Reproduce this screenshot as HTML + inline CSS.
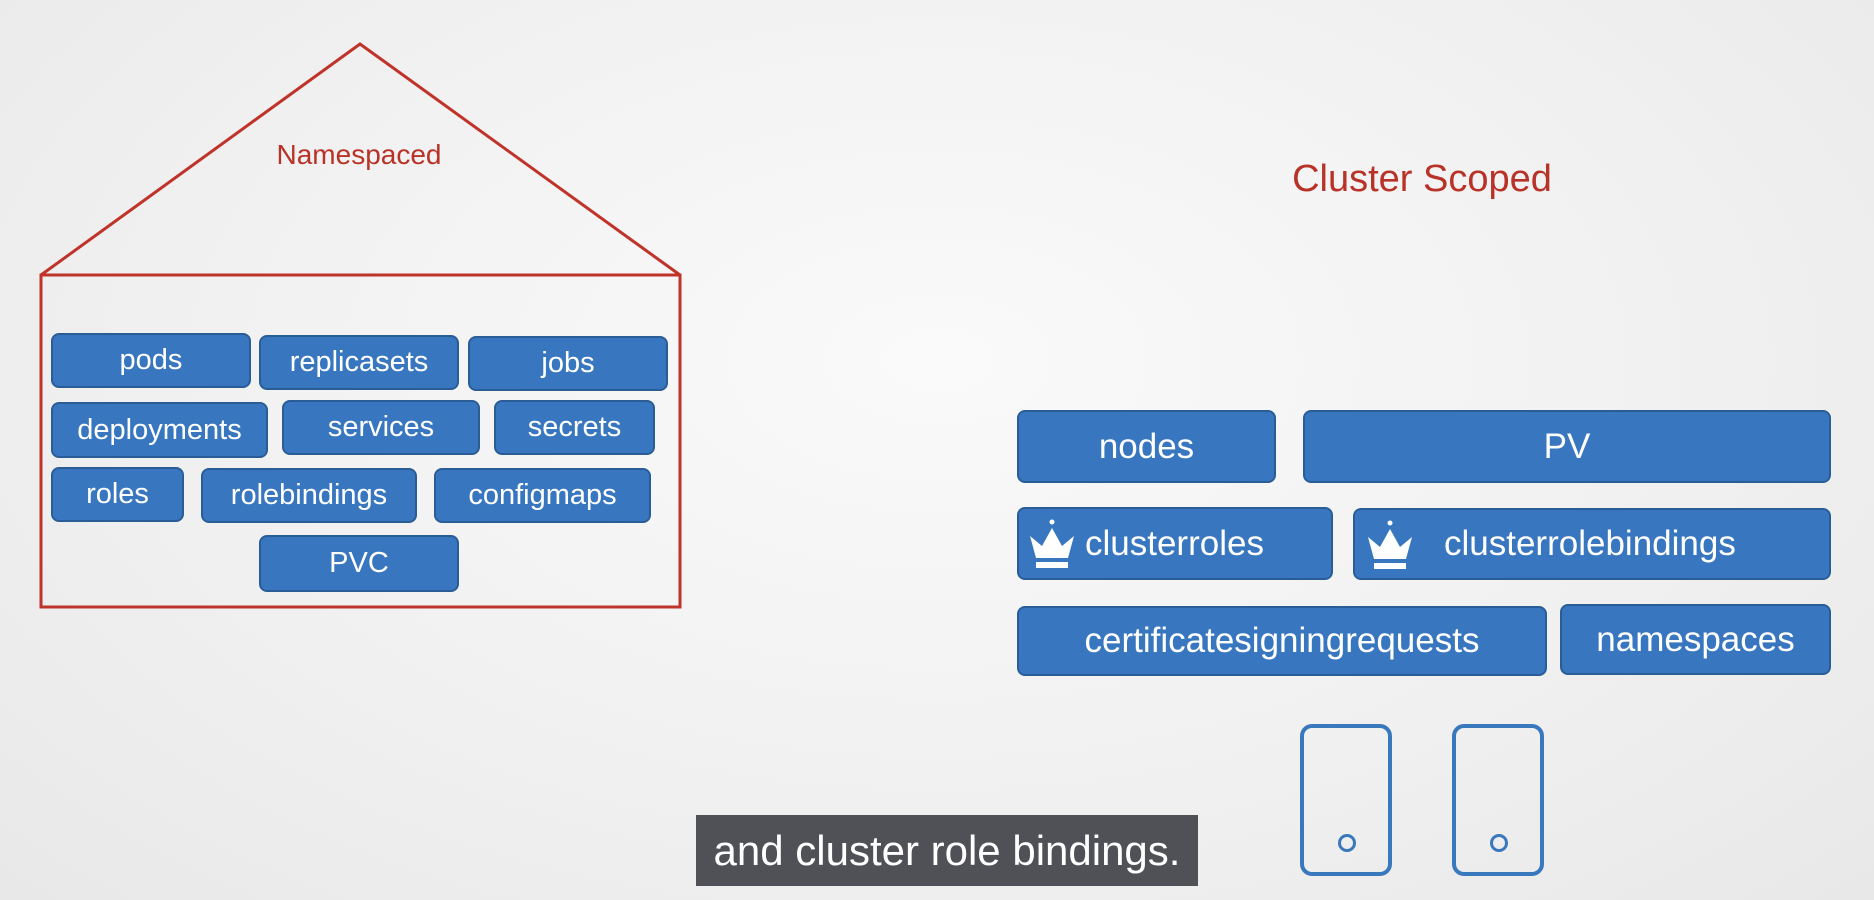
<!DOCTYPE html>
<html><head><style>
body{margin:0;width:1874px;height:900px;overflow:hidden;background:radial-gradient(ellipse at 50% 40%,#fafafa 0%,#f0f0f0 60%,#e8e8e8 100%);font-family:"Liberation Sans",sans-serif;position:relative}
.b{position:absolute;box-sizing:border-box;background:#3877bf;border:2px solid #2a5d96;border-radius:8px;color:#fff;display:flex;align-items:center;justify-content:center;font-size:29px}
.r{font-size:35px}
.t{position:absolute;color:#b83227;transform:translateX(-50%);white-space:nowrap}
.srv{position:absolute;box-sizing:border-box;border:4px solid #3a78bd;border-radius:12px;width:92px;height:152px;top:724px}
.srv::after{content:"";position:absolute;left:34px;bottom:20px;width:12px;height:12px;border:3px solid #3a78bd;border-radius:50%}
</style></head><body>
<svg style="position:absolute;left:0;top:0" width="1874" height="900">
<polyline points="41,275 360,44 680,275" fill="none" stroke="#c0332a" stroke-width="3"/>
<rect x="41" y="275" width="639" height="332" fill="none" stroke="#c0332a" stroke-width="3"/>
</svg>
<div class="t" style="left:359px;top:139px;font-size:28px">Namespaced</div>
<div class="t" style="left:1422px;top:158px;font-size:38px">Cluster Scoped</div>
<div class="b" style="left:51px;top:333px;width:200px;height:55px">pods</div>
<div class="b" style="left:259px;top:335px;width:200px;height:55px">replicasets</div>
<div class="b" style="left:468px;top:336px;width:200px;height:55px">jobs</div>
<div class="b" style="left:51px;top:402px;width:217px;height:56px">deployments</div>
<div class="b" style="left:282px;top:400px;width:198px;height:55px">services</div>
<div class="b" style="left:494px;top:400px;width:161px;height:55px">secrets</div>
<div class="b" style="left:51px;top:467px;width:133px;height:55px">roles</div>
<div class="b" style="left:201px;top:468px;width:216px;height:55px">rolebindings</div>
<div class="b" style="left:434px;top:468px;width:217px;height:55px">configmaps</div>
<div class="b" style="left:259px;top:535px;width:200px;height:57px">PVC</div>
<div class="b r" style="left:1017px;top:410px;width:259px;height:73px">nodes</div>
<div class="b r" style="left:1303px;top:410px;width:528px;height:73px">PV</div>
<div class="b r" style="left:1017px;top:507px;width:316px;height:73px;justify-content:flex-start;padding-left:66px">clusterroles</div>
<div class="b r" style="left:1353px;top:508px;width:478px;height:72px;justify-content:flex-start;padding-left:89px">clusterrolebindings</div>
<div class="b r" style="left:1017px;top:606px;width:530px;height:70px">certificatesigningrequests</div>
<div class="b r" style="left:1560px;top:604px;width:271px;height:71px">namespaces</div>
<svg style="position:absolute;left:1022px;top:518px" width="60" height="56"><path d="M8 18 L14 40 L46 40 L52 18 L40 28 L30 10 L20 28 Z" fill="#fff"/><rect x="14" y="44" width="32" height="6" fill="#fff"/><circle cx="30" cy="4" r="2.5" fill="#fff"/></svg>
<svg style="position:absolute;left:1360px;top:519px" width="60" height="56"><path d="M8 18 L14 40 L46 40 L52 18 L40 28 L30 10 L20 28 Z" fill="#fff"/><rect x="14" y="44" width="32" height="6" fill="#fff"/><circle cx="30" cy="4" r="2.5" fill="#fff"/></svg>
<div class="srv" style="left:1300px"></div>
<div class="srv" style="left:1452px"></div>
<div style="position:absolute;left:696px;top:815px;width:502px;height:71px;background:#505157;color:#fff;font-size:42px;display:flex;align-items:center;justify-content:center;white-space:nowrap">and cluster role bindings.</div>
</body></html>
